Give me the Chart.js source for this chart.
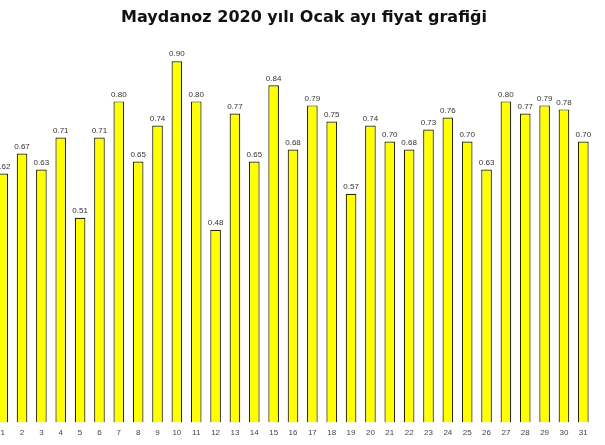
<!DOCTYPE html>
<html>
<head>
<meta charset="utf-8">
<script src="https://cdn.jsdelivr.net/npm/chart.js@4"></script>
<style>
  body { margin: 0; overflow: hidden; background: #fff; }
  #wrap { position: absolute; left: -7px; top: 0; width: 622px; height: 445px; }
</style>
</head>
<body>
<div id="wrap"><canvas id="bar-chart"></canvas></div>
<script>
  // Ocak ayı günleri ve fiyatlar
  const days = Array.from({ length: 31 }, (_, i) => (i + 1).toString());
  const prices = [0.62, 0.67, 0.63, 0.71, 0.51, 0.71, 0.80, 0.65, 0.74, 0.90,
                  0.80, 0.48, 0.77, 0.65, 0.84, 0.68, 0.79, 0.75, 0.57, 0.74,
                  0.70, 0.68, 0.73, 0.76, 0.70, 0.63, 0.80, 0.77, 0.79, 0.78, 0.70];
  const chartTitle = "Maydanoz 2020 yılı Ocak ayı fiyat grafiği";

  // draws the value above each bar
  const valueLabels = {
    id: "valueLabels",
    afterDatasetsDraw(chart) {
      const ctx = chart.ctx;
      const meta = chart.getDatasetMeta(0);
      ctx.save();
      ctx.font = "8px 'Liberation Sans', Arial, sans-serif";
      ctx.fillStyle = "#333";
      ctx.textAlign = "center";
      ctx.textBaseline = "bottom";
      meta.data.forEach((bar, i) => {
        ctx.fillText(prices[i].toFixed(2), bar.x, bar.y - 3);
      });
      ctx.restore();
    }
  };

  new Chart(document.getElementById("bar-chart"), {
    type: "bar",
    data: {
      labels: days,
      datasets: [{
        data: prices,
        backgroundColor: "#ffff00",
        borderColor: "#262600",
        borderWidth: 1.2,
        barPercentage: 0.55,
        categoryPercentage: 1
      }]
    },
    options: {
      responsive: true,
      maintainAspectRatio: false,
      animation: false,
      layout: { padding: { bottom: 1 } },
      plugins: {
        legend: { display: false },
        tooltip: { enabled: false },
        title: {
          display: true,
          text: chartTitle,
          color: "#111",
          font: { family: "'DejaVu Sans', Verdana, sans-serif", size: 16, weight: "bold" },
          padding: { top: 8, bottom: 14 }
        }
      },
      scales: {
        x: {
          grid: { display: false, drawTicks: false },
          border: { display: false },
          ticks: {
            color: "#444",
            padding: 6,
            font: { family: "'Liberation Sans', Arial, sans-serif", size: 8 },
            maxRotation: 0,
            autoSkip: false
          }
        },
        y: {
          position: "right",
          min: 0,
          max: 0.95,
          grid: { display: false },
          border: { display: false },
          ticks: { display: false },
          afterFit(scale) { scale.width = 22; }
        }
      }
    },
    plugins: [valueLabels]
  });
</script>
</body>
</html>
